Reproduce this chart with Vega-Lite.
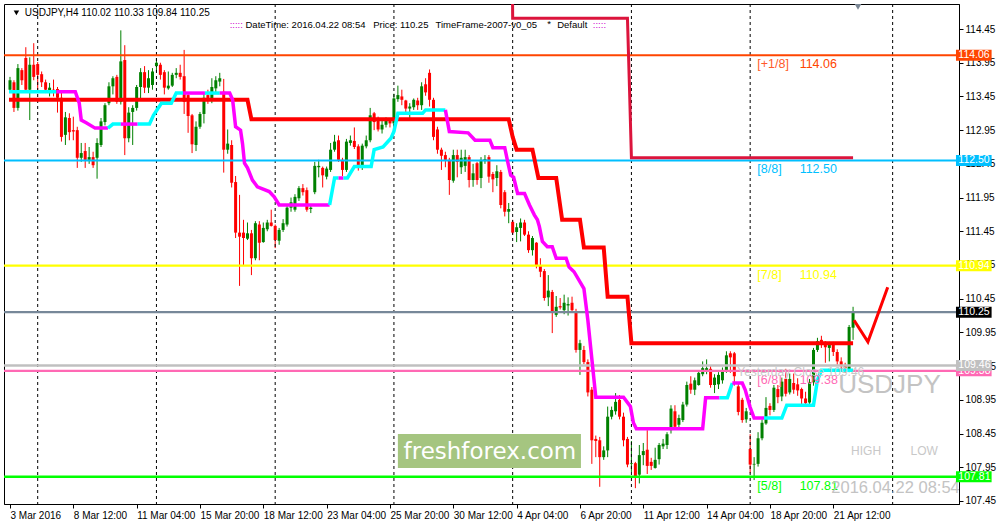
{
"$schema":"https://vega.github.io/schema/vega-lite/v6.json",
"width":955,"height":500,
"autosize":{"type":"none"},
"padding":{"left":4,"top":4,"right":42,"bottom":24},
"background":"white",
"config":{"view":{"stroke":"#000000","strokeWidth":1},"text":{"font":"Liberation Sans"},"axis":{"labelOverlap":false}},
"resolve":{"scale":{"color":"independent","strokeWidth":"independent"}},
"data":{"values":[{}]},
"datasets":{
"candles":[
{"i":0,"o":113.55,"h":113.74,"l":113.52,"c":113.69},
{"i":1,"o":113.66,"h":113.69,"l":113.22,"c":113.28},
{"i":2,"o":113.28,"h":113.93,"l":113.24,"c":113.87},
{"i":3,"o":113.84,"h":113.87,"l":113.62,"c":113.69},
{"i":4,"o":114.02,"h":114.18,"l":113.52,"c":113.55},
{"i":5,"o":113.55,"h":114.03,"l":113.10,"c":113.92},
{"i":6,"o":113.92,"h":114.24,"l":113.69,"c":113.74},
{"i":7,"o":113.93,"h":113.96,"l":113.55,"c":113.77},
{"i":8,"o":113.78,"h":113.82,"l":113.59,"c":113.66},
{"i":9,"o":113.66,"h":113.70,"l":113.50,"c":113.55},
{"i":10,"o":113.52,"h":113.65,"l":113.45,"c":113.58},
{"i":11,"o":113.55,"h":113.70,"l":113.45,"c":113.52},
{"i":12,"o":113.56,"h":113.59,"l":113.21,"c":113.43},
{"i":13,"o":113.43,"h":113.52,"l":112.78,"c":112.85},
{"i":14,"o":112.88,"h":113.22,"l":112.73,"c":113.14},
{"i":15,"o":113.13,"h":113.20,"l":112.80,"c":112.92},
{"i":16,"o":112.95,"h":113.15,"l":112.80,"c":112.93},
{"i":17,"o":112.95,"h":113.00,"l":112.39,"c":112.54},
{"i":18,"o":112.54,"h":112.76,"l":112.48,"c":112.61},
{"i":19,"o":112.64,"h":112.76,"l":112.39,"c":112.51},
{"i":20,"o":112.51,"h":112.70,"l":112.45,"c":112.55},
{"i":21,"o":112.55,"h":112.63,"l":112.39,"c":112.43},
{"i":22,"o":112.54,"h":112.83,"l":112.23,"c":112.76},
{"i":23,"o":112.73,"h":113.13,"l":112.70,"c":113.08},
{"i":24,"o":113.07,"h":113.35,"l":113.02,"c":113.32},
{"i":25,"o":113.35,"h":113.66,"l":113.32,"c":113.60},
{"i":26,"o":113.60,"h":113.75,"l":113.48,"c":113.72},
{"i":27,"o":113.74,"h":113.77,"l":113.34,"c":113.37},
{"i":28,"o":113.37,"h":114.43,"l":113.33,"c":113.97},
{"i":29,"o":113.99,"h":114.21,"l":112.58,"c":112.83},
{"i":30,"o":112.83,"h":113.29,"l":112.77,"c":113.21},
{"i":31,"o":113.22,"h":113.32,"l":112.73,"c":113.28},
{"i":32,"o":113.28,"h":113.62,"l":113.24,"c":113.59},
{"i":33,"o":113.59,"h":113.87,"l":113.40,"c":113.81},
{"i":34,"o":113.81,"h":113.90,"l":113.50,"c":113.58},
{"i":35,"o":113.58,"h":113.84,"l":113.50,"c":113.72},
{"i":36,"o":113.62,"h":113.87,"l":113.55,"c":113.82},
{"i":37,"o":113.90,"h":114.02,"l":113.82,"c":113.95},
{"i":38,"o":113.92,"h":113.95,"l":113.70,"c":113.77},
{"i":39,"o":113.81,"h":113.84,"l":113.48,"c":113.58},
{"i":40,"o":113.57,"h":113.82,"l":113.55,"c":113.61},
{"i":41,"o":113.61,"h":113.80,"l":113.59,"c":113.77},
{"i":42,"o":113.77,"h":113.87,"l":113.72,"c":113.80},
{"i":43,"o":113.80,"h":113.92,"l":113.70,"c":113.74},
{"i":44,"o":113.75,"h":114.14,"l":113.19,"c":113.37},
{"i":45,"o":113.47,"h":113.50,"l":112.91,"c":113.16},
{"i":46,"o":113.17,"h":113.19,"l":112.61,"c":112.74},
{"i":47,"o":112.73,"h":113.08,"l":112.64,"c":113.00},
{"i":48,"o":113.00,"h":113.22,"l":112.97,"c":113.19},
{"i":49,"o":113.19,"h":113.50,"l":113.05,"c":113.43},
{"i":50,"o":113.47,"h":113.55,"l":113.34,"c":113.40},
{"i":51,"o":113.40,"h":113.72,"l":113.35,"c":113.59},
{"i":52,"o":113.57,"h":113.75,"l":113.50,"c":113.69},
{"i":53,"o":113.67,"h":113.80,"l":113.60,"c":113.72},
{"i":54,"o":113.52,"h":113.71,"l":112.32,"c":112.66},
{"i":55,"o":112.66,"h":112.96,"l":112.60,"c":112.75},
{"i":56,"o":112.73,"h":112.80,"l":112.10,"c":112.17},
{"i":57,"o":112.18,"h":112.27,"l":111.35,"c":111.43},
{"i":58,"o":111.43,"h":111.99,"l":110.64,"c":111.37},
{"i":59,"o":111.43,"h":111.62,"l":110.95,"c":111.35},
{"i":60,"o":111.34,"h":111.58,"l":111.32,"c":111.42},
{"i":61,"o":111.42,"h":111.47,"l":110.80,"c":111.05},
{"i":62,"o":111.05,"h":111.60,"l":111.02,"c":111.57},
{"i":63,"o":111.55,"h":111.60,"l":111.02,"c":111.28},
{"i":64,"o":111.29,"h":111.58,"l":111.28,"c":111.50},
{"i":65,"o":111.48,"h":111.62,"l":111.45,"c":111.58},
{"i":66,"o":111.58,"h":111.77,"l":111.52,"c":111.53},
{"i":67,"o":111.53,"h":111.55,"l":111.20,"c":111.32},
{"i":68,"o":111.31,"h":111.50,"l":111.25,"c":111.47},
{"i":69,"o":111.47,"h":111.63,"l":111.44,"c":111.57},
{"i":70,"o":111.55,"h":111.83,"l":111.52,"c":111.80},
{"i":71,"o":111.80,"h":111.95,"l":111.74,"c":111.88},
{"i":72,"o":111.77,"h":112.00,"l":111.74,"c":111.96},
{"i":73,"o":111.94,"h":112.12,"l":111.90,"c":112.09},
{"i":74,"o":112.09,"h":112.15,"l":111.98,"c":112.03},
{"i":75,"o":112.06,"h":112.10,"l":111.74,"c":111.77},
{"i":76,"o":111.78,"h":111.85,"l":111.72,"c":111.80},
{"i":77,"o":112.03,"h":112.48,"l":112.00,"c":112.42},
{"i":78,"o":112.40,"h":112.51,"l":112.25,"c":112.42},
{"i":79,"o":112.39,"h":112.41,"l":112.10,"c":112.28},
{"i":80,"o":112.26,"h":112.41,"l":112.22,"c":112.38},
{"i":81,"o":112.36,"h":112.76,"l":112.33,"c":112.66},
{"i":82,"o":112.66,"h":112.88,"l":112.63,"c":112.78},
{"i":83,"o":112.80,"h":112.87,"l":112.48,"c":112.51},
{"i":84,"o":112.51,"h":112.54,"l":112.27,"c":112.36},
{"i":85,"o":112.36,"h":112.82,"l":112.33,"c":112.78},
{"i":86,"o":112.76,"h":112.87,"l":112.72,"c":112.80},
{"i":87,"o":112.79,"h":112.99,"l":112.67,"c":112.70},
{"i":88,"o":112.71,"h":112.74,"l":112.35,"c":112.43},
{"i":89,"o":112.43,"h":112.75,"l":112.36,"c":112.72},
{"i":90,"o":112.71,"h":112.87,"l":112.68,"c":112.80},
{"i":91,"o":112.80,"h":113.28,"l":112.77,"c":113.17},
{"i":92,"o":113.20,"h":113.22,"l":112.95,"c":113.07},
{"i":93,"o":113.09,"h":113.15,"l":112.93,"c":112.96},
{"i":94,"o":112.96,"h":113.09,"l":112.90,"c":113.03},
{"i":95,"o":113.03,"h":113.14,"l":112.99,"c":113.11},
{"i":96,"o":113.11,"h":113.13,"l":112.99,"c":113.05},
{"i":97,"o":113.05,"h":113.49,"l":113.01,"c":113.42},
{"i":98,"o":113.41,"h":113.61,"l":113.37,"c":113.47},
{"i":99,"o":113.45,"h":113.55,"l":113.32,"c":113.40},
{"i":100,"o":113.39,"h":113.40,"l":113.20,"c":113.27},
{"i":101,"o":113.27,"h":113.35,"l":113.10,"c":113.30},
{"i":102,"o":113.29,"h":113.42,"l":113.25,"c":113.40},
{"i":103,"o":113.39,"h":113.43,"l":113.25,"c":113.32},
{"i":104,"o":113.32,"h":113.66,"l":113.25,"c":113.60},
{"i":105,"o":113.63,"h":113.72,"l":113.46,"c":113.51},
{"i":106,"o":113.80,"h":113.85,"l":113.30,"c":113.40},
{"i":107,"o":113.40,"h":113.43,"l":112.80,"c":112.85},
{"i":108,"o":112.96,"h":113.00,"l":112.60,"c":112.66},
{"i":109,"o":112.66,"h":112.69,"l":112.36,"c":112.57},
{"i":110,"o":112.58,"h":112.63,"l":112.40,"c":112.51},
{"i":111,"o":112.51,"h":112.54,"l":111.99,"c":112.21},
{"i":112,"o":112.20,"h":112.66,"l":112.17,"c":112.58},
{"i":113,"o":112.58,"h":112.66,"l":112.25,"c":112.48},
{"i":114,"o":112.40,"h":112.66,"l":112.30,"c":112.54},
{"i":115,"o":112.42,"h":112.66,"l":112.33,"c":112.55},
{"i":116,"o":112.55,"h":112.58,"l":112.10,"c":112.21},
{"i":117,"o":112.21,"h":112.45,"l":112.11,"c":112.31},
{"i":118,"o":112.46,"h":112.48,"l":112.14,"c":112.21},
{"i":119,"o":112.24,"h":112.55,"l":112.09,"c":112.51},
{"i":120,"o":112.49,"h":112.58,"l":112.45,"c":112.52},
{"i":121,"o":112.55,"h":112.58,"l":112.17,"c":112.26},
{"i":122,"o":112.30,"h":112.33,"l":112.03,"c":112.22},
{"i":123,"o":112.24,"h":112.43,"l":112.12,"c":112.34},
{"i":124,"o":112.33,"h":112.36,"l":111.79,"c":111.84},
{"i":125,"o":112.03,"h":112.06,"l":111.67,"c":111.74},
{"i":126,"o":111.74,"h":111.87,"l":111.57,"c":111.78},
{"i":127,"o":111.59,"h":111.62,"l":111.40,"c":111.43},
{"i":128,"o":111.44,"h":111.57,"l":111.29,"c":111.51},
{"i":129,"o":111.50,"h":111.64,"l":111.30,"c":111.58},
{"i":130,"o":111.58,"h":111.62,"l":111.38,"c":111.40},
{"i":131,"o":111.40,"h":111.45,"l":111.13,"c":111.17},
{"i":132,"o":111.17,"h":111.38,"l":111.09,"c":111.35},
{"i":133,"o":111.28,"h":111.29,"l":110.90,"c":110.95},
{"i":134,"o":110.94,"h":111.05,"l":110.77,"c":110.85},
{"i":135,"o":110.86,"h":110.89,"l":110.42,"c":110.46},
{"i":136,"o":110.47,"h":110.80,"l":110.34,"c":110.57},
{"i":137,"o":110.55,"h":110.58,"l":109.94,"c":110.24},
{"i":138,"o":110.21,"h":110.49,"l":110.18,"c":110.33},
{"i":139,"o":110.34,"h":110.46,"l":110.29,"c":110.32},
{"i":140,"o":110.28,"h":110.51,"l":110.22,"c":110.39},
{"i":141,"o":110.35,"h":110.47,"l":110.20,"c":110.37},
{"i":142,"o":110.39,"h":110.48,"l":110.25,"c":110.28},
{"i":143,"o":110.25,"h":110.30,"l":109.65,"c":109.69},
{"i":144,"o":109.69,"h":109.84,"l":109.32,"c":109.79},
{"i":145,"o":109.69,"h":109.75,"l":109.48,"c":109.51},
{"i":146,"o":109.51,"h":109.55,"l":109.00,"c":109.06},
{"i":147,"o":109.10,"h":109.14,"l":108.00,"c":108.35},
{"i":148,"o":108.37,"h":108.42,"l":108.10,"c":108.34},
{"i":149,"o":108.35,"h":108.40,"l":107.66,"c":108.10},
{"i":150,"o":108.10,"h":108.26,"l":108.06,"c":108.20},
{"i":151,"o":108.20,"h":108.85,"l":108.10,"c":108.70},
{"i":152,"o":108.70,"h":108.85,"l":108.66,"c":108.80},
{"i":153,"o":108.78,"h":109.05,"l":108.73,"c":108.92},
{"i":154,"o":108.95,"h":109.02,"l":108.66,"c":108.70},
{"i":155,"o":108.70,"h":108.76,"l":108.26,"c":108.35},
{"i":156,"o":108.37,"h":108.40,"l":107.95,"c":107.99},
{"i":157,"o":108.00,"h":108.34,"l":107.88,"c":108.01},
{"i":158,"o":108.01,"h":108.03,"l":107.64,"c":107.81},
{"i":159,"o":107.84,"h":108.28,"l":107.71,"c":108.13},
{"i":160,"o":108.13,"h":108.31,"l":107.98,"c":108.19},
{"i":161,"o":108.21,"h":108.50,"l":107.85,"c":107.97},
{"i":162,"o":108.03,"h":108.09,"l":107.91,"c":107.97},
{"i":163,"o":107.94,"h":108.24,"l":107.93,"c":108.06},
{"i":164,"o":108.07,"h":108.31,"l":107.99,"c":108.28},
{"i":165,"o":108.26,"h":108.37,"l":108.22,"c":108.30},
{"i":166,"o":108.28,"h":108.47,"l":108.22,"c":108.44},
{"i":167,"o":108.50,"h":108.87,"l":108.45,"c":108.82},
{"i":168,"o":108.78,"h":108.87,"l":108.52,"c":108.55},
{"i":169,"o":108.58,"h":108.73,"l":108.53,"c":108.68},
{"i":170,"o":108.65,"h":108.92,"l":108.62,"c":108.88},
{"i":171,"o":108.88,"h":109.22,"l":108.85,"c":109.17},
{"i":172,"o":109.19,"h":109.30,"l":109.04,"c":109.10},
{"i":173,"o":109.10,"h":109.28,"l":109.02,"c":109.24},
{"i":174,"o":109.17,"h":109.39,"l":109.16,"c":109.35},
{"i":175,"o":109.33,"h":109.52,"l":109.30,"c":109.42},
{"i":176,"o":109.37,"h":109.55,"l":109.33,"c":109.42},
{"i":177,"o":109.41,"h":109.46,"l":109.13,"c":109.17},
{"i":178,"o":109.17,"h":109.33,"l":109.05,"c":109.28},
{"i":179,"o":109.18,"h":109.36,"l":109.11,"c":109.32},
{"i":180,"o":109.24,"h":109.43,"l":109.19,"c":109.39},
{"i":181,"o":109.38,"h":109.67,"l":109.35,"c":109.61},
{"i":182,"o":109.64,"h":109.67,"l":109.35,"c":109.58},
{"i":183,"o":109.64,"h":109.66,"l":109.16,"c":109.30},
{"i":184,"o":109.15,"h":109.19,"l":108.72,"c":108.77},
{"i":185,"o":108.95,"h":108.98,"l":108.61,"c":108.65},
{"i":186,"o":108.66,"h":108.83,"l":108.61,"c":108.78},
{"i":187,"o":108.22,"h":108.44,"l":107.86,"c":107.99},
{"i":188,"o":107.99,"h":108.10,"l":107.76,"c":108.00},
{"i":189,"o":108.00,"h":108.47,"l":107.96,"c":108.38},
{"i":190,"o":108.38,"h":108.66,"l":108.35,"c":108.61},
{"i":191,"o":108.60,"h":108.99,"l":108.58,"c":108.83},
{"i":192,"o":108.86,"h":108.90,"l":108.72,"c":108.80},
{"i":193,"o":108.80,"h":109.17,"l":108.77,"c":109.13},
{"i":194,"o":109.11,"h":109.17,"l":108.90,"c":108.99},
{"i":195,"o":109.00,"h":109.28,"l":108.93,"c":109.22},
{"i":196,"o":109.26,"h":109.41,"l":109.00,"c":109.04},
{"i":197,"o":109.06,"h":109.34,"l":109.03,"c":109.26},
{"i":198,"o":109.20,"h":109.34,"l":109.04,"c":109.10},
{"i":199,"o":109.18,"h":109.27,"l":109.01,"c":109.09},
{"i":200,"o":109.11,"h":109.13,"l":108.85,"c":108.97},
{"i":201,"o":108.97,"h":109.07,"l":108.86,"c":108.90},
{"i":202,"o":108.91,"h":109.26,"l":108.87,"c":109.21},
{"i":203,"o":109.21,"h":109.72,"l":109.16,"c":109.69},
{"i":204,"o":109.69,"h":109.87,"l":109.66,"c":109.82},
{"i":205,"o":109.84,"h":109.90,"l":109.72,"c":109.78},
{"i":206,"o":109.81,"h":109.82,"l":109.50,"c":109.73},
{"i":207,"o":109.72,"h":109.81,"l":109.52,"c":109.79},
{"i":208,"o":109.78,"h":109.81,"l":109.60,"c":109.66},
{"i":209,"o":109.66,"h":109.70,"l":109.47,"c":109.52},
{"i":210,"o":109.52,"h":109.58,"l":109.40,"c":109.45},
{"i":211,"o":109.45,"h":109.50,"l":109.35,"c":109.42},
{"i":212,"o":109.40,"h":110.06,"l":109.36,"c":110.03},
{"i":213,"o":110.02,"h":110.33,"l":109.84,"c":110.25}
],
"trail":[
{"s":1,"t":"up","i":-0.25,"v":113.52},{"s":1,"t":"up","i":11.75,"v":113.52},
{"s":2,"t":"dn","i":11.75,"v":113.52},{"s":2,"t":"dn","i":16.5,"v":113.52},{"s":2,"t":"dn","i":17.5,"v":113.35},{"s":2,"t":"dn","i":18,"v":113.10},{"s":2,"t":"dn","i":19.25,"v":113.06},{"s":2,"t":"dn","i":21.5,"v":112.98},{"s":2,"t":"dn","i":24.75,"v":112.98},
{"s":3,"t":"up","i":24.75,"v":112.98},{"s":3,"t":"up","i":26,"v":113.04},{"s":3,"t":"up","i":28,"v":113.04},
{"s":4,"t":"dn","i":28,"v":113.04},{"s":4,"t":"dn","i":32.25,"v":113.04},
{"s":5,"t":"up","i":32.25,"v":113.04},{"s":5,"t":"up","i":35.25,"v":113.04},{"s":5,"t":"up","i":36.25,"v":113.17},{"s":5,"t":"up","i":38.25,"v":113.35},{"s":5,"t":"up","i":40.75,"v":113.35},{"s":5,"t":"up","i":42,"v":113.50},{"s":5,"t":"up","i":43.75,"v":113.50},
{"s":6,"t":"dn","i":43.75,"v":113.50},{"s":6,"t":"dn","i":49.25,"v":113.50},
{"s":7,"t":"up","i":49.25,"v":113.50},{"s":7,"t":"up","i":53,"v":113.50},
{"s":8,"t":"dn","i":53,"v":113.50},{"s":8,"t":"dn","i":55.5,"v":113.50},{"s":8,"t":"dn","i":56.25,"v":113.40},{"s":8,"t":"dn","i":57,"v":113.00},{"s":8,"t":"dn","i":58.25,"v":112.95},{"s":8,"t":"dn","i":58.75,"v":112.75},{"s":8,"t":"dn","i":59.25,"v":112.46},{"s":8,"t":"dn","i":60,"v":112.39},{"s":8,"t":"dn","i":61.25,"v":112.21},{"s":8,"t":"dn","i":62.5,"v":112.11},{"s":8,"t":"dn","i":65.5,"v":112.04},{"s":8,"t":"dn","i":66.75,"v":111.96},{"s":8,"t":"dn","i":68,"v":111.84},{"s":8,"t":"dn","i":80.75,"v":111.84},
{"s":9,"t":"up","i":80.75,"v":111.84},{"s":9,"t":"up","i":82,"v":112.24},{"s":9,"t":"up","i":83,"v":112.24},
{"s":10,"t":"dn","i":83,"v":112.24},{"s":10,"t":"dn","i":84.25,"v":112.24},
{"s":11,"t":"up","i":84.25,"v":112.24},{"s":11,"t":"up","i":85.25,"v":112.24},{"s":11,"t":"up","i":87,"v":112.41},{"s":11,"t":"up","i":91.25,"v":112.41},{"s":11,"t":"up","i":92,"v":112.66},{"s":11,"t":"up","i":94.25,"v":112.70},{"s":11,"t":"up","i":96.25,"v":112.83},{"s":11,"t":"up","i":97,"v":112.93},{"s":11,"t":"up","i":98,"v":113.20},{"s":11,"t":"up","i":104.25,"v":113.20},{"s":11,"t":"up","i":105,"v":113.25},{"s":11,"t":"up","i":110,"v":113.25},
{"s":12,"t":"dn","i":110,"v":113.25},{"s":12,"t":"dn","i":111,"v":112.93},{"s":12,"t":"dn","i":115.75,"v":112.91},{"s":12,"t":"dn","i":117.5,"v":112.80},{"s":12,"t":"dn","i":121.25,"v":112.80},{"s":12,"t":"dn","i":122,"v":112.69},{"s":12,"t":"dn","i":125,"v":112.69},{"s":12,"t":"dn","i":125.75,"v":112.48},{"s":12,"t":"dn","i":126.5,"v":112.28},{"s":12,"t":"dn","i":127.25,"v":112.25},{"s":12,"t":"dn","i":128.25,"v":112.01},{"s":12,"t":"dn","i":130,"v":112.01},{"s":12,"t":"dn","i":131.25,"v":111.84},{"s":12,"t":"dn","i":132.5,"v":111.69},{"s":12,"t":"dn","i":133.25,"v":111.62},{"s":12,"t":"dn","i":133.75,"v":111.52},{"s":12,"t":"dn","i":134.5,"v":111.30},{"s":12,"t":"dn","i":135.75,"v":111.22},{"s":12,"t":"dn","i":137,"v":111.22},{"s":12,"t":"dn","i":138,"v":111.05},{"s":12,"t":"dn","i":140.5,"v":111.05},{"s":12,"t":"dn","i":141.25,"v":110.92},{"s":12,"t":"dn","i":142.5,"v":110.85},{"s":12,"t":"dn","i":145,"v":110.60},{"s":12,"t":"dn","i":146,"v":110.13},{"s":12,"t":"dn","i":146.75,"v":109.70},{"s":12,"t":"dn","i":148,"v":108.99},{"s":12,"t":"dn","i":155,"v":108.99},{"s":12,"t":"dn","i":156.75,"v":108.85},{"s":12,"t":"dn","i":157.5,"v":108.61},{"s":12,"t":"dn","i":158.25,"v":108.52},{"s":12,"t":"dn","i":175,"v":108.52},{"s":12,"t":"dn","i":175.75,"v":108.98},{"s":12,"t":"dn","i":179.25,"v":108.98},
{"s":13,"t":"up","i":179.25,"v":108.98},{"s":13,"t":"up","i":181.25,"v":108.98},{"s":13,"t":"up","i":182.5,"v":109.20},
{"s":14,"t":"dn","i":182.5,"v":109.20},{"s":14,"t":"dn","i":185,"v":109.20},{"s":14,"t":"dn","i":185.75,"v":109.10},{"s":14,"t":"dn","i":187,"v":108.84},{"s":14,"t":"dn","i":188,"v":108.68},{"s":14,"t":"dn","i":190.5,"v":108.68},
{"s":15,"t":"up","i":190.5,"v":108.68},{"s":15,"t":"up","i":195,"v":108.68},{"s":15,"t":"up","i":196.25,"v":108.87},{"s":15,"t":"up","i":203,"v":108.87},{"s":15,"t":"up","i":204,"v":109.24},{"s":15,"t":"up","i":205,"v":109.39},{"s":15,"t":"up","i":213,"v":109.39}
],
"redstep":[
{"i":-0.25,"v":113.40},{"i":60,"v":113.40},{"i":61,"v":113.11},{"i":126,"v":113.11},{"i":127,"v":112.85},{"i":128,"v":112.66},{"i":132,"v":112.66},{"i":133.5,"v":112.24},{"i":138,"v":112.24},{"i":139.5,"v":111.62},{"i":144,"v":111.62},{"i":145,"v":111.21},{"i":150,"v":111.21},{"i":151,"v":110.48},{"i":156,"v":110.48},{"i":157,"v":109.79},{"i":213,"v":109.79}
],
"crimson":[
{"i":126.9,"v":115.5},{"i":127,"v":114.61},{"i":156,"v":114.61},{"i":156.5,"v":113.6},{"i":157,"v":112.54},{"i":213,"v":112.54}
],
"levels":[
{"name":"+1/8","v":114.06},{"name":"8/8","v":112.50},{"name":"7/8","v":110.94},{"name":"bid","v":110.25},{"name":"6/8","v":109.38},{"name":"yclose","v":109.46},{"name":"5/8","v":107.81}
],
"murrey":[
{"tag":"[+1/8]","v":114.06},{"tag":"[8/8]","v":112.50},{"tag":"[7/8]","v":110.94},{"tag":"[6/8]","v":109.38},{"tag":"[5/8]","v":107.81}
],
"check":[
{"i":213.25,"v":110.13},{"i":216.75,"v":109.81},{"i":221.75,"v":110.62}
],
"weeks":[{"i":7},{"i":37},{"i":67},{"i":97},{"i":127},{"i":157},{"i":187},{"i":223}]
},
"layer":[
{"data":{"name":"candles"},"mark":{"type":"rule","strokeWidth":1},
 "encoding":{
  "x":{"field":"i","type":"quantitative","title":null,"scale":{"domain":[-0.25,238.5],"nice":false,"zero":false},
   "axis":{"orient":"bottom","values":[0,16,32,48,64,80,96,112,128,144,160,176,192,208],"tickCount":40,"labelExpr":"['3 Mar 2016','8 Mar 12:00','11 Mar 04:00','15 Mar 20:00','18 Mar 12:00','23 Mar 04:00','25 Mar 20:00','30 Mar 12:00','4 Apr 04:00','6 Apr 20:00','11 Apr 12:00','14 Apr 04:00','18 Apr 20:00','21 Apr 12:00'][round(datum.value/16)]","labelAlign":"left","labelFlush":false,"labelOverlap":false,"title":null,"grid":false,"tickSize":4,"tickColor":"#000000","domainColor":"#000000","labelFont":"Liberation Sans","labelFontSize":10,"labelColor":"#000000","labelPadding":2}},
  "y":{"field":"l","type":"quantitative","title":null,"scale":{"domain":[107.405,114.821],"nice":false,"zero":false},
   "axis":{"orient":"right","values":[107.45,107.95,108.45,108.95,109.45,109.95,110.45,110.95,111.45,111.95,112.45,112.95,113.45,113.95,114.45],"tickCount":40,"format":".2f","title":null,"grid":false,"tickSize":4,"tickColor":"#000000","domainColor":"#000000","labelFont":"Liberation Sans","labelFontSize":10,"labelColor":"#000000","labelPadding":2,"labelOverlap":false,"labelFlush":false}},
  "y2":{"field":"h"},
  "color":{"condition":{"test":"datum.c >= datum.o","value":"#008000"},"value":"#ff0000"}}},
{"data":{"name":"weeks"},"mark":{"type":"rule","color":"#000000","strokeWidth":1,"strokeDash":[3,3]},
 "encoding":{"x":{"field":"i","type":"quantitative","title":null,"scale":{"domain":[-0.25,238.5],"nice":false,"zero":false}}}},
{"data":{"name":"candles"},"mark":{"type":"bar","size":3,"orient":"vertical"},
 "encoding":{
  "x":{"field":"i","type":"quantitative","title":null,"scale":{"domain":[-0.25,238.5],"nice":false,"zero":false}},
  "y":{"field":"o","type":"quantitative","title":null,"scale":{"domain":[107.405,114.821],"nice":false,"zero":false}},
  "y2":{"field":"c"},
  "color":{"condition":{"test":"datum.c >= datum.o","value":"#008000"},"value":"#ff0000"}}},
{"data":{"name":"levels"},"mark":{"type":"rule"},
 "encoding":{
  "y":{"field":"v","type":"quantitative","title":null,"scale":{"domain":[107.405,114.821],"nice":false,"zero":false}},
  "color":{"field":"name","type":"nominal","scale":{"domain":["+1/8","8/8","7/8","bid","6/8","yclose","5/8"],"range":["#ff4500","#00bfff","#ffff00","#778899","#ff69b4","#c0c0c0","#00ff00"]},"legend":null},
  "strokeWidth":{"field":"name","type":"nominal","scale":{"domain":["+1/8","8/8","7/8","bid","6/8","yclose","5/8"],"range":[2,2.5,2,1,2,1.5,3]},"legend":null}}},
{"data":{"name":"redstep"},"mark":{"type":"line","color":"#ff0000","strokeWidth":4},
 "encoding":{
  "x":{"field":"i","type":"quantitative","title":null,"scale":{"domain":[-0.25,238.5],"nice":false,"zero":false}},
  "y":{"field":"v","type":"quantitative","title":null,"scale":{"domain":[107.405,114.821],"nice":false,"zero":false}}}},
{"data":{"name":"crimson"},"mark":{"type":"line","color":"#dc143c","strokeWidth":3,"clip":true},
 "encoding":{
  "x":{"field":"i","type":"quantitative","title":null,"scale":{"domain":[-0.25,238.5],"nice":false,"zero":false}},
  "y":{"field":"v","type":"quantitative","title":null,"scale":{"domain":[107.405,114.821],"nice":false,"zero":false}}}},
{"data":{"name":"trail"},"mark":{"type":"line","strokeWidth":3.5},
 "encoding":{
  "x":{"field":"i","type":"quantitative","title":null,"scale":{"domain":[-0.25,238.5],"nice":false,"zero":false}},
  "y":{"field":"v","type":"quantitative","title":null,"scale":{"domain":[107.405,114.821],"nice":false,"zero":false}},
  "color":{"field":"t","type":"nominal","scale":{"domain":["up","dn"],"range":["#00ffff","#ff00ff"]},"legend":null},
  "detail":{"field":"s","type":"nominal"}}},
{"data":{"name":"murrey"},"mark":{"type":"text","align":"left","baseline":"middle","dy":9,"font":"Liberation Sans","fontSize":12.5},
 "encoding":{
  "x":{"datum":188.8,"type":"quantitative","title":null,"scale":{"domain":[-0.25,238.5],"nice":false,"zero":false}},
  "y":{"field":"v","type":"quantitative","title":null,"scale":{"domain":[107.405,114.821],"nice":false,"zero":false}},
  "text":{"field":"tag"},
  "color":{"field":"tag","type":"nominal","scale":{"domain":["[+1/8]","[8/8]","[7/8]","[6/8]","[5/8]"],"range":["#ff5a2a","#00bfff","#ffff00","#ff69b4","#00ff00"]},"legend":null}}},
{"data":{"name":"murrey"},"mark":{"type":"text","align":"left","baseline":"middle","dy":9,"font":"Liberation Sans","fontSize":12.5},
 "encoding":{
  "x":{"datum":199.5,"type":"quantitative","title":null,"scale":{"domain":[-0.25,238.5],"nice":false,"zero":false}},
  "y":{"field":"v","type":"quantitative","title":null,"scale":{"domain":[107.405,114.821],"nice":false,"zero":false}},
  "text":{"field":"v","format":".2f"},
  "color":{"field":"tag","type":"nominal","scale":{"domain":["[+1/8]","[8/8]","[7/8]","[6/8]","[5/8]"],"range":["#ff4500","#00bfff","#ffff00","#ff69b4","#00ff00"]},"legend":null}}},
{"mark":{"type":"text","text":"Yesterday Close 109.46","align":"left","baseline":"middle","dy":7,"font":"Liberation Sans","fontSize":12,"color":"#c8c8c8"},
 "encoding":{
  "x":{"datum":183.75,"type":"quantitative","title":null,"scale":{"domain":[-0.25,238.5],"nice":false,"zero":false}},
  "y":{"datum":109.46,"type":"quantitative","title":null,"scale":{"domain":[107.405,114.821],"nice":false,"zero":false}}}},
{"mark":{"type":"rect","color":"#a5c580"},
 "encoding":{
  "x":{"datum":98,"type":"quantitative","title":null,"scale":{"domain":[-0.25,238.5],"nice":false,"zero":false}},
  "x2":{"datum":144.25},
  "y":{"datum":108.444,"type":"quantitative","title":null,"scale":{"domain":[107.405,114.821],"nice":false,"zero":false}},
  "y2":{"datum":107.94}}},
{"mark":{"type":"text","text":"freshforex.com","align":"center","baseline":"middle","font":"DejaVu Sans","fontSize":23,"color":"#ffffff"},
 "encoding":{
  "x":{"datum":121.25,"type":"quantitative","title":null,"scale":{"domain":[-0.25,238.5],"nice":false,"zero":false}},
  "y":{"datum":108.18,"type":"quantitative","title":null,"scale":{"domain":[107.405,114.821],"nice":false,"zero":false}}}},
{"mark":{"type":"text","text":"USDJPY","align":"left","baseline":"middle","font":"Liberation Sans","fontSize":26,"color":"#c3c3c3","clip":true},
 "encoding":{
  "x":{"datum":209.25,"type":"quantitative","title":null,"scale":{"domain":[-0.25,238.5],"nice":false,"zero":false}},
  "y":{"datum":109.17,"type":"quantitative","title":null,"scale":{"domain":[107.405,114.821],"nice":false,"zero":false}}}},
{"mark":{"type":"text","text":"HIGH","align":"left","baseline":"middle","font":"Liberation Sans","fontSize":12,"color":"#c8c8c8"},
 "encoding":{
  "x":{"datum":212.5,"type":"quantitative","title":null,"scale":{"domain":[-0.25,238.5],"nice":false,"zero":false}},
  "y":{"datum":108.19,"type":"quantitative","title":null,"scale":{"domain":[107.405,114.821],"nice":false,"zero":false}}}},
{"mark":{"type":"text","text":"LOW","align":"left","baseline":"middle","font":"Liberation Sans","fontSize":12,"color":"#c8c8c8"},
 "encoding":{
  "x":{"datum":227.5,"type":"quantitative","title":null,"scale":{"domain":[-0.25,238.5],"nice":false,"zero":false}},
  "y":{"datum":108.19,"type":"quantitative","title":null,"scale":{"domain":[107.405,114.821],"nice":false,"zero":false}}}},
{"mark":{"type":"text","text":"2016.04.22 08:54","align":"left","baseline":"middle","font":"Liberation Sans","fontSize":16.5,"color":"#c3c3c3","clip":true},
 "encoding":{
  "x":{"datum":207.5,"type":"quantitative","title":null,"scale":{"domain":[-0.25,238.5],"nice":false,"zero":false}},
  "y":{"datum":107.643,"type":"quantitative","title":null,"scale":{"domain":[107.405,114.821],"nice":false,"zero":false}}}},
{"data":{"name":"check"},"mark":{"type":"line","color":"#ff0000","strokeWidth":3},
 "encoding":{
  "x":{"field":"i","type":"quantitative","title":null,"scale":{"domain":[-0.25,238.5],"nice":false,"zero":false}},
  "y":{"field":"v","type":"quantitative","title":null,"scale":{"domain":[107.405,114.821],"nice":false,"zero":false}}}},
{"mark":{"type":"point","shape":"triangle-down","filled":true,"size":30,"color":"#000000","opacity":1},
 "encoding":{
  "x":{"datum":1.625,"type":"quantitative","title":null,"scale":{"domain":[-0.25,238.5],"nice":false,"zero":false}},
  "y":{"datum":114.688,"type":"quantitative","title":null,"scale":{"domain":[107.405,114.821],"nice":false,"zero":false}}}},
{"mark":{"type":"point","shape":"triangle-down","filled":true,"size":45,"color":"#7a8694","opacity":1},
 "encoding":{
  "x":{"datum":214.25,"type":"quantitative","title":null,"scale":{"domain":[-0.25,238.5],"nice":false,"zero":false}},
  "y":{"datum":114.777,"type":"quantitative","title":null,"scale":{"domain":[107.405,114.821],"nice":false,"zero":false}}}},
{"mark":{"type":"text","text":"USDJPY,H4  110.02 110.33 109.84 110.25","align":"left","baseline":"middle","fontSize":10,"color":"#000000"},
 "encoding":{
  "x":{"datum":3.75,"type":"quantitative","title":null,"scale":{"domain":[-0.25,238.5],"nice":false,"zero":false}},
  "y":{"datum":114.688,"type":"quantitative","title":null,"scale":{"domain":[107.405,114.821],"nice":false,"zero":false}}}},
{"mark":{"type":"text","text":":::::","align":"left","baseline":"middle","fontSize":9.5,"color":"#cc00cc"},
 "encoding":{
  "x":{"datum":55.5,"type":"quantitative","title":null,"scale":{"domain":[-0.25,238.5],"nice":false,"zero":false}},
  "y":{"datum":114.51,"type":"quantitative","title":null,"scale":{"domain":[107.405,114.821],"nice":false,"zero":false}}}},
{"mark":{"type":"text","text":"DateTime: 2016.04.22 08:54","align":"left","baseline":"middle","fontSize":9.5,"color":"#000000"},
 "encoding":{
  "x":{"datum":59.5,"type":"quantitative","title":null,"scale":{"domain":[-0.25,238.5],"nice":false,"zero":false}},
  "y":{"datum":114.51,"type":"quantitative","title":null,"scale":{"domain":[107.405,114.821],"nice":false,"zero":false}}}},
{"mark":{"type":"text","text":"Price: 110.25","align":"left","baseline":"middle","fontSize":9.5,"color":"#000000"},
 "encoding":{
  "x":{"datum":91.75,"type":"quantitative","title":null,"scale":{"domain":[-0.25,238.5],"nice":false,"zero":false}},
  "y":{"datum":114.51,"type":"quantitative","title":null,"scale":{"domain":[107.405,114.821],"nice":false,"zero":false}}}},
{"mark":{"type":"text","text":"TimeFrame-2007-v0_05","align":"left","baseline":"middle","fontSize":9.5,"color":"#000000"},
 "encoding":{
  "x":{"datum":107.5,"type":"quantitative","title":null,"scale":{"domain":[-0.25,238.5],"nice":false,"zero":false}},
  "y":{"datum":114.51,"type":"quantitative","title":null,"scale":{"domain":[107.405,114.821],"nice":false,"zero":false}}}},
{"mark":{"type":"text","text":"*","align":"left","baseline":"middle","fontSize":9.5,"color":"#000000"},
 "encoding":{
  "x":{"datum":135.75,"type":"quantitative","title":null,"scale":{"domain":[-0.25,238.5],"nice":false,"zero":false}},
  "y":{"datum":114.53,"type":"quantitative","title":null,"scale":{"domain":[107.405,114.821],"nice":false,"zero":false}}}},
{"mark":{"type":"text","text":"Default","align":"left","baseline":"middle","fontSize":9.5,"color":"#000000"},
 "encoding":{
  "x":{"datum":138.25,"type":"quantitative","title":null,"scale":{"domain":[-0.25,238.5],"nice":false,"zero":false}},
  "y":{"datum":114.51,"type":"quantitative","title":null,"scale":{"domain":[107.405,114.821],"nice":false,"zero":false}}}},
{"mark":{"type":"text","text":":::::","align":"left","baseline":"middle","fontSize":9.5,"color":"#cc00cc"},
 "encoding":{
  "x":{"datum":147.25,"type":"quantitative","title":null,"scale":{"domain":[-0.25,238.5],"nice":false,"zero":false}},
  "y":{"datum":114.51,"type":"quantitative","title":null,"scale":{"domain":[107.405,114.821],"nice":false,"zero":false}}}},
{"data":{"name":"levels"},"transform":[{"filter":"datum.name != 'yclose'"}],"mark":{"type":"rule","strokeWidth":11,"clip":false},
 "encoding":{
  "x":{"datum":239,"type":"quantitative","title":null,"scale":{"domain":[-0.25,238.5],"nice":false,"zero":false}},
  "x2":{"datum":248},
  "y":{"field":"v","type":"quantitative","title":null,"scale":{"domain":[107.405,114.821],"nice":false,"zero":false}},
  "color":{"field":"name","type":"nominal","scale":{"domain":["+1/8","8/8","7/8","bid","6/8","yclose","5/8"],"range":["#ff4500","#00bfff","#ffff00","#000000","#ff69b4","#c0c0c0","#00ff00"]},"legend":null}}},
{"data":{"name":"levels"},"transform":[{"filter":"datum.name != 'yclose'"}],"mark":{"type":"text","align":"left","baseline":"middle","fontSize":10.5,"color":"#ffffff"},
 "encoding":{
  "x":{"datum":239.6,"type":"quantitative","title":null,"scale":{"domain":[-0.25,238.5],"nice":false,"zero":false}},
  "y":{"field":"v","type":"quantitative","title":null,"scale":{"domain":[107.405,114.821],"nice":false,"zero":false}},
  "text":{"field":"v","format":".2f"}}},
{"data":{"name":"levels"},"transform":[{"filter":"datum.name == 'yclose'"}],"mark":{"type":"rule","strokeWidth":11,"color":"#c0c0c0","clip":false},
 "encoding":{
  "x":{"datum":239,"type":"quantitative","title":null,"scale":{"domain":[-0.25,238.5],"nice":false,"zero":false}},
  "x2":{"datum":248},
  "y":{"field":"v","type":"quantitative","title":null,"scale":{"domain":[107.405,114.821],"nice":false,"zero":false}}}},
{"data":{"name":"levels"},"transform":[{"filter":"datum.name == 'yclose'"}],"mark":{"type":"text","align":"left","baseline":"middle","fontSize":10.5,"color":"#ffffff"},
 "encoding":{
  "x":{"datum":239.6,"type":"quantitative","title":null,"scale":{"domain":[-0.25,238.5],"nice":false,"zero":false}},
  "y":{"field":"v","type":"quantitative","title":null,"scale":{"domain":[107.405,114.821],"nice":false,"zero":false}},
  "text":{"field":"v","format":".2f"}}}
]
}
